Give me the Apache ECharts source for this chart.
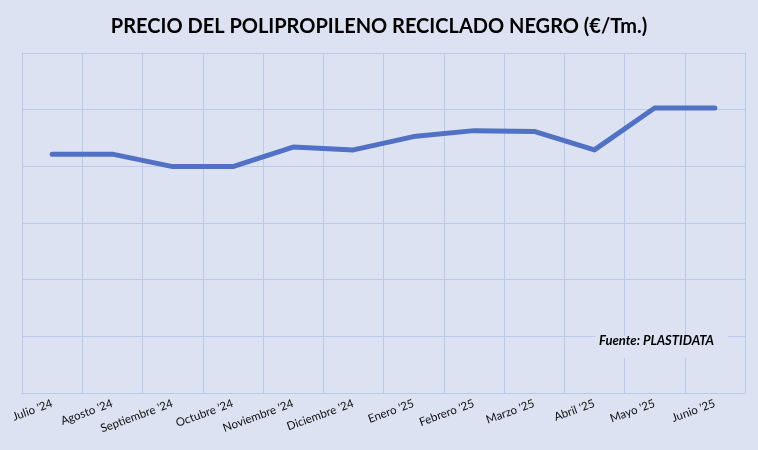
<!DOCTYPE html>
<html>
<head>
<meta charset="utf-8">
<script src="https://cdn.jsdelivr.net/npm/echarts@6/dist/echarts.min.js"></script>
<style>
  html, body { margin: 0; padding: 0; background: #dde2f2; }
  #chart { width: 758px; height: 450px; }
</style>
</head>
<body>
<div id="chart"></div>
<script>
// Monthly price of black recycled PP, €/Tm (y labels hidden in the original)
const months = ["Julio '24", "Agosto '24", "Septiembre '24", "Octubre '24", "Noviembre '24", "Diciembre '24",
                "Enero '25", "Febrero '25", "Marzo '25", "Abril '25", "Mayo '25", "Junio '25"];
const prices = [843, 843, 799, 799, 868, 858, 905, 926, 923, 858, 1006, 1006];

const BG = '#dde2f2';
const GRID_LINE = '#b9c9e8';
const LINE = '#5071c4';
const FONT = "Lato, 'Open Sans', sans-serif";

const chart = echarts.init(document.getElementById('chart'), null, { renderer: 'canvas' });

chart.setOption({
  animation: false,
  backgroundColor: BG,
  title: {
    text: 'PRECIO DEL POLIPROPILENO RECICLADO NEGRO (€/Tm.)',
    left: 'center',
    top: 12,
    textStyle: { fontFamily: FONT, fontWeight: 'bold', fontSize: 20, color: '#000' },
  },
  grid: { left: 22, right: 13, top: 53, bottom: 57, containLabel: false },
  xAxis: {
    type: 'category',
    data: months,
    boundaryGap: true,
    axisLine: { show: true, lineStyle: { color: GRID_LINE } },
    axisTick: { show: false },
    splitLine: { show: true, lineStyle: { color: GRID_LINE, width: 1 } },
    axisLabel: { rotate: 20, margin: 10, interval: 0, color: '#111', fontFamily: FONT, fontSize: 11.5 },
  },
  yAxis: {
    type: 'value',
    min: 0,
    max: 1200,
    interval: 200,
    axisLabel: { show: false },
    axisLine: { show: false },
    axisTick: { show: false },
    splitLine: { lineStyle: { color: GRID_LINE, width: 1 } },
  },
  series: [{
    type: 'line',
    data: prices,
    symbol: 'none',
    lineStyle: { color: LINE, width: 5, cap: 'round', join: 'round' },
  }],
  graphic: [
    { type: 'rect', left: 595, top: 336, shape: { width: 133, height: 22 }, style: { fill: BG }, z: 10 },
    {
      type: 'text', left: 599, top: 334, z: 11,
      style: { text: 'Fuente: PLASTIDATA', font: "italic bold 13px Lato, 'Open Sans', sans-serif", fill: '#000' },
    },
  ],
});
</script>
</body>
</html>
